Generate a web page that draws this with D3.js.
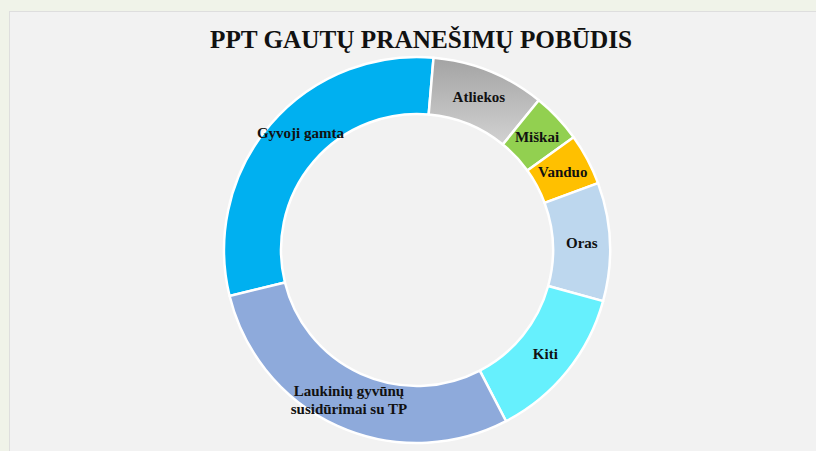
<!DOCTYPE html>
<html>
<head>
<meta charset="utf-8">
<script src="https://cdn.jsdelivr.net/npm/d3@7"></script>
<style>
  html, body { margin: 0; padding: 0; background: #f0f3e9; }
  svg { display: block; }
</style>
</head>
<body>
<div id="chart"></div>
<script>
// == data, clockwise from the first slice
const categories = ["Gyvoji gamta", "Atliekos", "Miškai", "Vanduo", "Oras", "Kiti", "Laukinių gyvūnų susidūrimai su TP"];
const values = [30.2, 9.5, 4.2, 4.3, 9.9, 13.1, 28.8];
const colors = ["#00b0f0", "url(#grayGrad)", "#92d050", "#ffc000", "#bdd7ee", "#66f0fd", "#8eaadb"];
const labelLines = [["Gyvoji gamta"], ["Atliekos"], ["Miškai"], ["Vanduo"], ["Oras"], ["Kiti"], ["Laukinių gyvūnų", "susidūrimai su TP"]];
const title = "PPT GAUTŲ PRANEŠIMŲ POBŪDIS";

const W = 816, H = 451;
const CX = 417, CY = 250;
const R_OUT = 193, R_IN = 136;
const START = -103.8 * Math.PI / 180;

const svg = d3.select("#chart").append("svg")
    .attr("width", W)
    .attr("height", H);

// gradient for the grey slice
const grad = svg.append("defs").append("linearGradient")
    .attr("id", "grayGrad")
    .attr("x1", 0).attr("y1", 0).attr("x2", 0).attr("y2", 1);
grad.append("stop").attr("offset", "0%").attr("stop-color", "#a3a3a3");
grad.append("stop").attr("offset", "100%").attr("stop-color", "#d2d2d2");

// chart panel
svg.append("rect")
    .attr("x", 9.5).attr("y", 11.5)
    .attr("width", W).attr("height", H)
    .attr("fill", "#f2f2f2")
    .attr("stroke", "#dedede")
    .attr("stroke-width", 1);

svg.append("text")
    .attr("x", 421)
    .attr("y", 48)
    .attr("text-anchor", "middle")
    .attr("textLength", 422)
    .attr("lengthAdjust", "spacingAndGlyphs")
    .style("font", "bold 25px 'Liberation Serif', serif")
    .style("fill", "#111")
    .text(title);

const pie = d3.pie()
    .sort(null)
    .startAngle(START)
    .endAngle(START + 2 * Math.PI)
    .value(d => d.value);

const arcs = pie(categories.map((c, i) => ({ name: c, value: values[i], i })));

const arc = d3.arc().innerRadius(R_IN).outerRadius(R_OUT);
const labelArc = d3.arc().innerRadius(165).outerRadius(165);

const g = svg.append("g")
    .attr("transform", `translate(${CX}, ${CY})`);

g.selectAll("path")
  .data(arcs)
  .enter().append("path")
    .attr("d", arc)
    .attr("fill", d => colors[d.data.i])
    .attr("stroke", "#ffffff")
    .attr("stroke-width", 2.5)
    .attr("stroke-linejoin", "round");

// the first label sits a bit further round in the original
const labelShift = [4.5, 0, 0, 0, 0, 0, 0];

const labels = g.selectAll("text.lbl")
  .data(arcs)
  .enter().append("text")
    .attr("class", "lbl")
    .attr("text-anchor", "middle")
    .attr("transform", d => {
      const s = labelShift[d.data.i] * Math.PI / 180;
      const c = labelArc.centroid({ startAngle: d.startAngle + s, endAngle: d.endAngle + s });
      return `translate(${c[0]}, ${c[1]})`;
    })
    .style("font", "bold 15px 'Liberation Serif', serif")
    .style("fill", "#111");

labels.each(function(d) {
  const lines = labelLines[d.data.i];
  const t = d3.select(this);
  const lh = 18;
  lines.forEach((ln, k) => {
    t.append("tspan")
      .attr("x", 0)
      .attr("y", (k - (lines.length - 1) / 2) * lh + 5)
      .text(ln);
  });
});
</script>
</body>
</html>
